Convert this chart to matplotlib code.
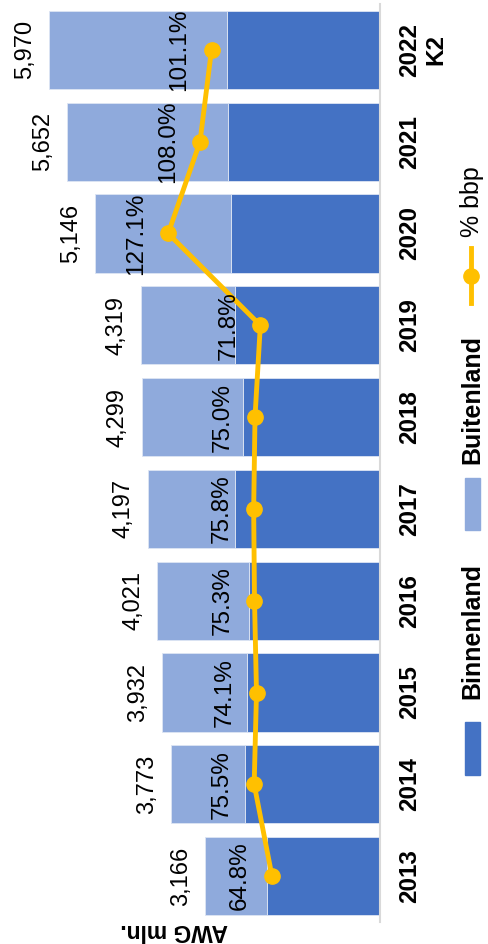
import numpy as np
import matplotlib.pyplot as plt
from matplotlib.patches import Rectangle
from matplotlib.lines import Line2D

plt.rcParams['font.family'] = ['Liberation Sans', 'DejaVu Sans']

# Data (AWG mln. and % bbp)
jaren = ['2013', '2014', '2015', '2016', '2017', '2018', '2019', '2020', '2021', '2022\nK2']
totaal = [3166, 3773, 3932, 4021, 4197, 4299, 4319, 5146, 5652, 5970]
binnenland = [2040, 2437, 2401, 2365, 2617, 2473, 2617, 2690, 2744, 2762]
pct_bbp = [64.8, 75.5, 74.1, 75.3, 75.8, 75.0, 71.8, 127.1, 108.0, 101.1]
buitenland = [t - b for t, b in zip(totaal, binnenland)]

DONKER = '#4472C4'
LICHT = '#8FAADC'
GEEL = '#FFC000'

W, H = 489, 944
fig = plt.figure(figsize=(W / 100, H / 100), dpi=100)


def px(x, y):
    # pixel coords (from top-left) to figure fraction
    return x / W, 1 - y / H


# chart is drawn rotated: bars grow to the left, years on the right
ax = fig.add_axes([0, 22 / H, 380 / W, 918 / H])
pos = np.arange(len(jaren))
ax.barh(pos, binnenland, height=0.85, color=DONKER, edgecolor='#dde5f3', linewidth=0.6)
ax.barh(pos, buitenland, left=binnenland, height=0.85, color=LICHT, edgecolor='#dde5f3', linewidth=0.6)
ax.set_xlim(6860, 0)
ax.set_ylim(-0.5, len(jaren) - 0.5)

# totals
for p, t in zip(pos, totaal):
    ax.annotate(f'{t:,}', (t, p), xytext=(-24, 0), textcoords='offset pixels',
                rotation=90, ha='center', va='center', fontsize=17)

ax.yaxis.tick_right()
ax.set_yticks(pos)
ax.set_yticklabels(jaren, rotation=90, va='center', ha='left',
                   multialignment='center', fontsize=17.5, fontweight='bold')
ax.tick_params(axis='y', length=0, pad=13)
ax.set_xticks([])
for s in ['top', 'left', 'bottom']:
    ax.spines[s].set_visible(False)
ax.spines['right'].set_color('#d9d9d9')
ax.spines['right'].set_linewidth(1.5)

# % bbp on secondary axis
ax2 = ax.twiny()
ax2.plot(pct_bbp, pos, color=GEEL, linewidth=3.5, marker='o', markersize=11)
ax2.set_xlim(228, 0)
ax2.set_xticks([])
for s in ax2.spines.values():
    s.set_visible(False)
for p, v in zip(pos, pct_bbp):
    ax2.annotate(f'{v:.1f}%', (v, p), xytext=(-32, 0), textcoords='offset pixels',
                 rotation=90, ha='center', va='center', fontsize=17.5)

# axis title
x, y = px(174, 931)
fig.text(x, y, 'AWG mln.', rotation=180, ha='center', va='center',
         fontsize=16.5, fontweight='bold')

# legend (rotated, built by hand)
for kleur, y0, y1, naam, ty in [(DONKER, 722, 775, 'Binnenland', 631),
                                 (LICHT, 478, 530, 'Buitenland', 400)]:
    x0, yb = px(465, y1)
    fig.patches.append(Rectangle((x0, yb), 15 / W, (y1 - y0) / H,
                                 transform=fig.transFigure, color=kleur))
    tx, tyf = px(472, ty)
    fig.text(tx, tyf, naam, rotation=90, ha='center', va='center',
             fontsize=18, fontweight='bold')

lx, ly0 = px(471, 248)
_, ly1 = px(471, 303)
fig.add_artist(Line2D([lx, lx], [ly0, ly1], transform=fig.transFigure,
                      color=GEEL, linewidth=3.5))
_, lym = px(471, 276)
fig.add_artist(Line2D([lx], [lym], transform=fig.transFigure, color=GEEL,
                      marker='o', markersize=11))
tx, tyf = px(472, 202)
fig.text(tx, tyf, '% bbp', rotation=90, ha='center', va='center', fontsize=18)

fig.savefig('out.png', dpi=100)
